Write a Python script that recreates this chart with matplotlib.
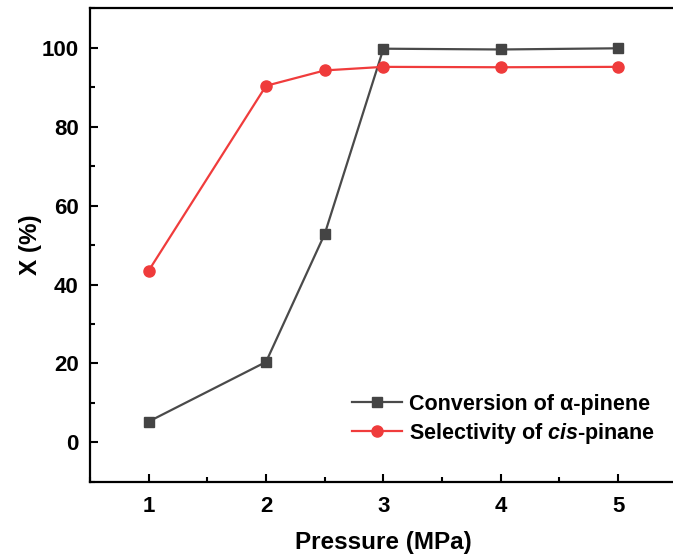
import matplotlib
matplotlib.use("Agg")
import matplotlib.pyplot as plt
from matplotlib.ticker import MultipleLocator

plt.rcParams['font.family'] = ['Liberation Sans', 'DejaVu Sans']
plt.rcParams['font.weight'] = 'bold'
plt.rcParams['mathtext.fontset'] = 'custom'
plt.rcParams['mathtext.it'] = 'Liberation Sans:italic:bold'
plt.rcParams['mathtext.rm'] = 'Liberation Sans:bold'

pressure = [1, 2, 2.5, 3, 4, 5]
conversion = [5.3, 20.4, 52.8, 99.7, 99.5, 99.8]
selectivity = [43.5, 90.3, 94.2, 95.1, 95.0, 95.1]

fig = plt.figure(figsize=(6.73, 5.56), dpi=100)
ax = fig.add_axes([0.1337, 0.1331, 0.872, 0.8525])

ax.plot(pressure, conversion, color='#4a4a4a', lw=1.6, marker='s', ms=7,
        mfc='#444444', mec='#444444', label='Conversion of α-pinene')
ax.plot(pressure, selectivity, color='#f03c3c', lw=1.6, marker='o', ms=8,
        mfc='#ef3b3b', mec='#ef3b3b', label='Selectivity of $\\it{cis}$-pinane')

ax.set_xlim(0.5, 5.5)
ax.set_ylim(-10, 110)
ax.xaxis.set_major_locator(MultipleLocator(1))
ax.xaxis.set_minor_locator(MultipleLocator(0.5))
ax.yaxis.set_major_locator(MultipleLocator(20))
ax.yaxis.set_minor_locator(MultipleLocator(10))
ax.tick_params(which='both', direction='in', width=1.5, labelsize=16, pad=8)
ax.tick_params(which='major', length=6)
ax.tick_params(which='minor', length=3.5)
ax.tick_params(axis='x', pad=10)
for s in ax.spines.values():
    s.set_linewidth(1.6)

ax.set_xlabel('Pressure (MPa)', fontsize=17.5, fontweight='bold', labelpad=10)
ax.set_ylabel('X (%)', fontsize=17.5, fontweight='bold', labelpad=0)

ax.legend(loc='lower right', bbox_to_anchor=(0.997, 0.035), frameon=False,
          fontsize=15.5, handlelength=2.3, handletextpad=0.35, labelspacing=0.3)

fig.savefig('out.png', dpi=100)
